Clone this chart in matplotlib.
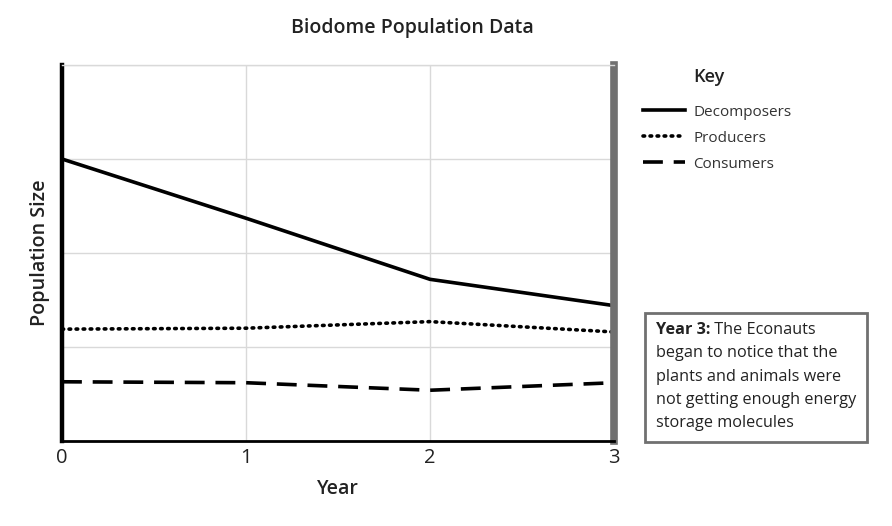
import matplotlib
matplotlib.use('Agg')
import matplotlib.pyplot as plt
from matplotlib.lines import Line2D

plt.rcParams['font.family'] = ['Open Sans', 'DejaVu Sans']

years = [0, 1, 2, 3]
decomposers = [3.0, 2.37, 1.72, 1.44]
producers = [1.19, 1.20, 1.27, 1.16]
consumers = [0.63, 0.62, 0.54, 0.62]
series_names = ['Decomposers', 'Producers', 'Consumers']
note_head = 'Year 3:'
note_body = ['The Econauts', 'began to notice that the', 'plants and animals were',
             'not getting enough energy', 'storage molecules']

fig = plt.figure(figsize=(8.92, 5.26), dpi=100)
ax = fig.add_axes([62 / 892, 85 / 526, 552 / 892, 376 / 526])

lw = 2.6
dot = (0, (0.45, 1.5))
dash = (0, (5.5, 3))
ax.plot(years, decomposers, color='black', lw=lw, solid_capstyle='butt')
ax.plot(years, producers, color='black', lw=lw, linestyle=dot, dash_capstyle='round')
ax.plot(years, consumers, color='black', lw=lw, linestyle=dash)

ax.set_xlim(0, 3)
ax.set_ylim(0, 4)
ax.set_xticks(years)
ax.set_yticks([1, 2, 3, 4])
ax.set_yticklabels([])
ax.tick_params(length=0, labelsize=14.5, pad=5, colors='#222222')
ax.grid(True, color='#d9d9d9', lw=1)
ax.set_axisbelow(True)

ax.spines['left'].set_color('black')
ax.spines['left'].set_linewidth(3.2)
ax.spines['bottom'].set_color('black')
ax.spines['bottom'].set_linewidth(2)
ax.spines['top'].set_color('#d9d9d9')
ax.spines['top'].set_linewidth(1)
ax.spines['right'].set_color('#707070')
ax.spines['right'].set_linewidth(5.5)

ax.set_xlabel('Year', fontsize=14, fontweight='semibold', labelpad=8, color='#222222')
ax.set_ylabel('Population Size', fontsize=14.2, fontweight='semibold', labelpad=4, color='#222222')
fig.text(412 / 892, 1 - 28 / 526, 'Biodome Population Data', ha='center', va='center',
         fontsize=14, fontweight='semibold', color='#222222')

# key: bold heading placed on its own, then the legend rows below it
fig.text(693 / 892, 1 - 77 / 526, 'Key', ha='left', va='center',
         fontsize=13, fontweight='semibold', color='#222222')
handles = [
    Line2D([], [], color='black', lw=lw),
    Line2D([], [], color='black', lw=lw, linestyle=dot, dash_capstyle='round'),
    Line2D([], [], color='black', lw=lw, linestyle=dash),
]
leg = fig.legend(handles, series_names, loc='upper left',
                 bbox_to_anchor=(629 / 892, 1 - 91 / 526), frameon=False,
                 fontsize=11, handlelength=2.75,
                 labelspacing=0.72, handletextpad=0.55)
for t in leg.get_texts():
    t.set_color('#333333')

fs = 11.7
head = fig.text(656 / 892, 1 - 334 / 526, note_head, ha='left', va='baseline',
                fontsize=fs, fontweight='bold', color='#222222')
ax.annotate(' ' + note_body[0], xy=(1, 0), xycoords=head, ha='left', va='bottom',
            fontsize=fs, color='#222222', annotation_clip=False)
for i, line in enumerate(note_body[1:]):
    fig.text(656 / 892, 1 - (334 + 23.3 * (i + 1)) / 526, line, ha='left', va='baseline',
             fontsize=fs, color='#222222')
rect = plt.Rectangle((645 / 892, 1 - 442 / 526), 222 / 892, 129 / 526,
                     transform=fig.transFigure, fill=False, edgecolor='#707070', lw=2)
fig.add_artist(rect)

fig.savefig('out.png', dpi=100)
